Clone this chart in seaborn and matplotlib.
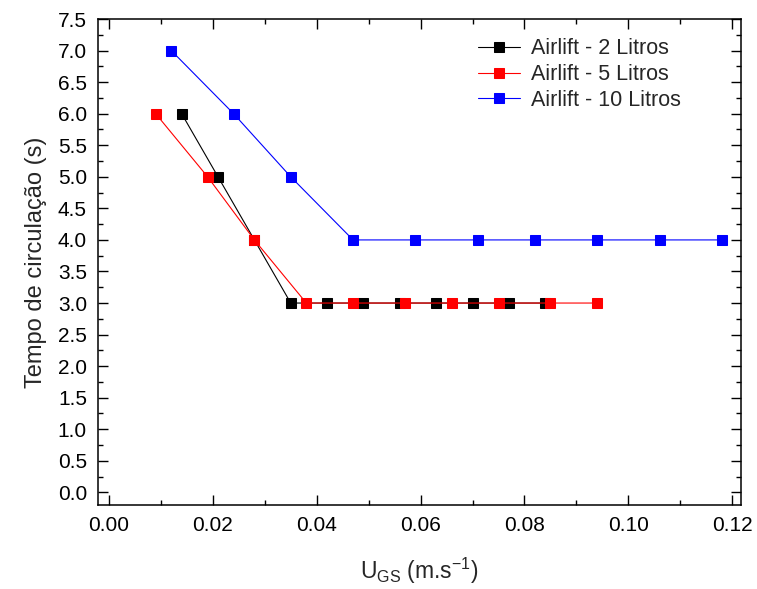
import matplotlib
matplotlib.use("Agg")
import matplotlib.pyplot as plt
import seaborn as sns
import pandas as pd
from matplotlib.ticker import MultipleLocator

x_2L = [0.014, 0.021, 0.028, 0.035, 0.042, 0.049, 0.056, 0.063, 0.070, 0.077, 0.084]
y_2L = [6.0, 5.0, 4.0, 3.0, 3.0, 3.0, 3.0, 3.0, 3.0, 3.0, 3.0]
x_5L = [0.009, 0.019, 0.028, 0.038, 0.047, 0.057, 0.066, 0.075, 0.085, 0.094]
y_5L = [6.0, 5.0, 4.0, 3.0, 3.0, 3.0, 3.0, 3.0, 3.0, 3.0]
x_10L = [0.012, 0.024, 0.035, 0.047, 0.059, 0.071, 0.082, 0.094, 0.106, 0.118]
y_10L = [7.0, 6.0, 5.0, 4.0, 4.0, 4.0, 4.0, 4.0, 4.0, 4.0]
labels = ["Airlift - 2 Litros", "Airlift - 5 Litros", "Airlift - 10 Litros"]
colors = ["#000000", "#FF0000", "#0000FF"]

sns.set_theme(style="ticks")
plt.rcParams['font.family'] = ['Liberation Sans', 'DejaVu Sans']
plt.rcParams['mathtext.fontset'] = 'custom'
plt.rcParams['mathtext.rm'] = 'Liberation Sans'
plt.rcParams['mathtext.it'] = 'Liberation Sans:italic'

fig = plt.figure(figsize=(7.57, 5.89), dpi=100)
ax = fig.add_axes([0.1295, 0.1426, 0.8495, 0.8251])

for xs, ys, lab, c in zip([x_2L, x_5L, x_10L], [y_2L, y_5L, y_10L], labels, colors):
    df = pd.DataFrame({"x": xs, "y": ys})
    sns.lineplot(data=df, x="x", y="y", ax=ax, color=c, marker="s", markersize=6.5,
                 markeredgecolor=c, linewidth=0.8, sort=False, estimator=None, label=lab)

ax.set_xlim(-0.0021, 0.1217)
ax.set_ylim(-0.2, 7.5)
ax.xaxis.set_major_locator(MultipleLocator(0.02))
ax.xaxis.set_minor_locator(MultipleLocator(0.01))
ax.yaxis.set_major_locator(MultipleLocator(0.5))
ax.yaxis.set_minor_locator(MultipleLocator(0.25))
ax.xaxis.set_major_formatter(matplotlib.ticker.FormatStrFormatter('%.2f'))
ax.yaxis.set_major_formatter(matplotlib.ticker.FormatStrFormatter('%.1f'))
ax.tick_params(which='both', direction='in', top=True, right=True, colors='black', width=1.0)
ax.tick_params(which='major', length=7, labelsize=15, pad=8)
ax.tick_params(which='minor', length=3.5)
for s in ax.spines.values():
    s.set_linewidth(1.1)
    s.set_color('black')

ax.set_xlabel(r"U$_\mathrm{GS}$ (m.s$^\mathrm{-1}$)", fontsize=16.5, labelpad=15)
ax.set_ylabel("Tempo de circulação (s)", fontsize=17, labelpad=8)

leg = ax.legend(loc='upper left', bbox_to_anchor=(0.591, 0.960), borderaxespad=0, borderpad=0,
                frameon=False, fontsize=15.5, handlelength=1.95, handletextpad=0.51,
                labelspacing=0.22, numpoints=1)

fig.savefig("out.png", dpi=100)
